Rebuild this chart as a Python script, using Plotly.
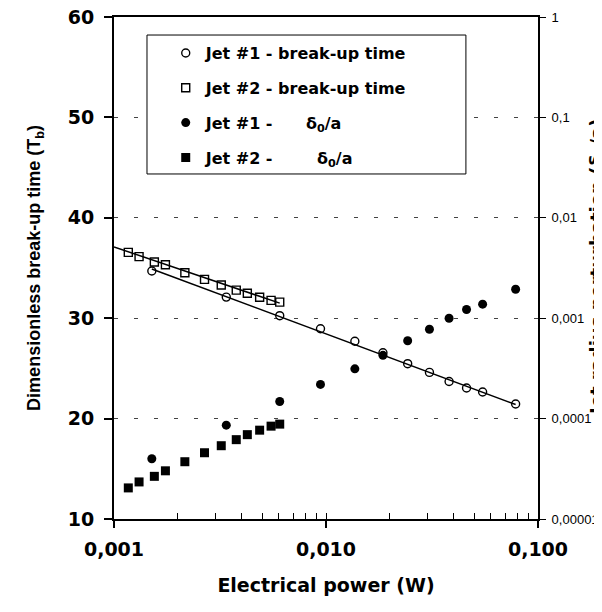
import plotly.graph_objects as go

# ---- data ----
power_j1 = [0.001508, 0.003385, 0.00605, 0.00942, 0.01368, 0.01856,
            0.02428, 0.03076, 0.03807, 0.04602, 0.0548, 0.07843]
tb_j1 = [34.7, 32.1, 30.25, 28.95, 27.7, 26.56, 25.47, 24.6, 23.7, 23.05, 22.65, 21.45]
delta_j1 = [3.98e-5, 8.6e-5, 1.48e-4, 2.19e-4, 3.13e-4, 4.27e-4,
            5.96e-4, 7.76e-4, 1.0e-3, 1.22e-3, 1.38e-3, 1.94e-3]

power_j2 = [0.001168, 0.001313, 0.00155, 0.001748, 0.002159, 0.002673,
            0.003206, 0.003773, 0.004255, 0.004864, 0.005507, 0.00605]
tb_j2 = [36.56, 36.13, 35.6, 35.33, 34.53, 33.87, 33.3, 32.8, 32.48, 32.08, 31.78, 31.6]
delta_j2 = [2.04e-5, 2.34e-5, 2.66e-5, 3.02e-5, 3.72e-5, 4.57e-5,
            5.37e-5, 6.17e-5, 6.92e-5, 7.67e-5, 8.41e-5, 8.81e-5]

fit_j1_x = [0.001508, 0.07843]
fit_j1_y = [34.9, 21.4]
fit_j2_x = [0.001, 0.00605]
fit_j2_y = [37.1, 31.5]

x_tick_vals = [0.001, 0.01, 0.1]
x_tick_text = ["0,001", "0,010", "0,100"]
x_minor_vals = [k * 10.0 ** e for e in (-3, -2) for k in range(1, 10)] + [0.1]
y_tick_vals = [10, 20, 30, 40, 50, 60]
y2_tick_vals = [1e-5, 1e-4, 1e-3, 1e-2, 1e-1, 1]
y2_tick_text = ["0,00001", "0,0001", "0,001", "0,01", "0,1", "1"]

BOLD = "DejaVu Sans"
ARIAL = "Liberation Sans, Arial"

fig = go.Figure()

# trend lines
fig.add_trace(go.Scatter(x=fit_j1_x, y=fit_j1_y, mode="lines",
                         line=dict(color="black", width=1.5), showlegend=False,
                         hoverinfo="skip"))
fig.add_trace(go.Scatter(x=fit_j2_x, y=fit_j2_y, mode="lines",
                         line=dict(color="black", width=1.5), showlegend=False,
                         hoverinfo="skip"))

fig.add_trace(go.Scatter(
    x=power_j1, y=tb_j1, mode="markers", name="Jet #1 - break-up time",
    legendgroup="a",
    marker=dict(symbol="circle-open", size=8, color="black", line=dict(width=1.4))))
fig.add_trace(go.Scatter(
    x=power_j2, y=tb_j2, mode="markers", name="Jet #2 - break-up time",
    legendgroup="b",
    marker=dict(symbol="square-open", size=8, color="black", line=dict(width=1.4))))
fig.add_trace(go.Scatter(
    x=power_j1, y=delta_j1, yaxis="y2", mode="markers",
    name="Jet #1 -\u00a0\u00a0\u00a0\u00a0\u00a0\u00a0δ<sub>0</sub>/a",
    legendgroup="c",
    marker=dict(symbol="circle", size=9, color="black")))
fig.add_trace(go.Scatter(
    x=power_j2, y=delta_j2, yaxis="y2", mode="markers",
    name="Jet #2 -\u00a0\u00a0\u00a0\u00a0\u00a0\u00a0\u00a0\u00a0δ<sub>0</sub>/a",
    legendgroup="d",
    marker=dict(symbol="square", size=9, color="black")))

# invisible trace hosting the minor-tick axis
fig.add_trace(go.Scatter(x=[0.001, 0.1], y=[10, 60], xaxis="x2", mode="markers",
                         marker=dict(opacity=0), showlegend=False, hoverinfo="skip"))

fig.update_layout(
    width=602, height=612,
    margin=dict(l=106, r=72, t=9, b=101, autoexpand=False),
    plot_bgcolor="white", paper_bgcolor="white",
    showlegend=True,
    legend=dict(x=0.122, y=0.962, xanchor="left", yanchor="top",
                bgcolor="rgba(0,0,0,0)", borderwidth=0,
                font=dict(family=BOLD, size=16, color="black", weight="bold"),
                traceorder="grouped", tracegroupgap=11),
    xaxis=dict(type="log", range=[-3, -1], tickvals=x_tick_vals, ticktext=x_tick_text,
               ticks="outside", ticklen=7, tickwidth=1.5, tickcolor="black",
               showline=True, linecolor="black", linewidth=2, mirror=True,
               showgrid=False, zeroline=False, automargin=False,
               ticklabeloverflow="allow",
               tickfont=dict(family=BOLD, size=19, color="black", weight="bold"),
               ticklabelstandoff=5,
               title=dict(text="Electrical power (W)", standoff=20,
                          font=dict(family=BOLD, size=19, color="black", weight="bold"))),
    xaxis2=dict(type="log", range=[-3, -1], overlaying="x", anchor="y", side="bottom",
                tickvals=x_minor_vals, ticks="inside", ticklen=6, tickwidth=1.2,
                tickcolor="black", showticklabels=False, showline=False,
                showgrid=False, zeroline=False, automargin=False),
    yaxis=dict(range=[10, 60], tickvals=y_tick_vals, ticks="outside", ticklen=8,
               tickwidth=1.5, tickcolor="black",
               showline=True, linecolor="black", linewidth=2,
               showgrid=True, gridcolor="#444444", gridwidth=1, griddash="4px,16px",
               zeroline=False, automargin=False, ticklabeloverflow="allow",
               tickfont=dict(family=BOLD, size=19, color="black", weight="bold"),
               ticklabelstandoff=6,
               title=dict(text="Dimensionless break-up time (T<sub>b</sub>)", standoff=22,
                          font=dict(family=ARIAL, size=18, color="black", weight="bold"))),
    yaxis2=dict(type="log", range=[-5, 0], overlaying="y", side="right",
                tickvals=y2_tick_vals, ticktext=y2_tick_text,
                ticks="outside", ticklen=6, tickwidth=1.2, tickcolor="black",
                showline=True, linecolor="black", linewidth=2,
                showgrid=False, zeroline=False, automargin=False,
                ticklabeloverflow="allow",
                tickfont=dict(family=ARIAL, size=13, color="black"),
                ticklabelstandoff=3),
    shapes=[dict(type="rect", xref="paper", yref="paper",
                 x0=0.0778, x1=0.830, y0=0.6873, y1=0.9641,
                 line=dict(color="black", width=1), fillcolor="white", layer="above")],
    annotations=[dict(text="Jet radius perturbation (δ<sub>0</sub>/a)",
                      xref="paper", yref="paper", x=1, y=0.5, xanchor="left",
                      yanchor="middle", xshift=46, textangle=-90, showarrow=False,
                      font=dict(family=BOLD, size=18, color="black", weight="bold"))],
)

fig.write_html("out.html")
